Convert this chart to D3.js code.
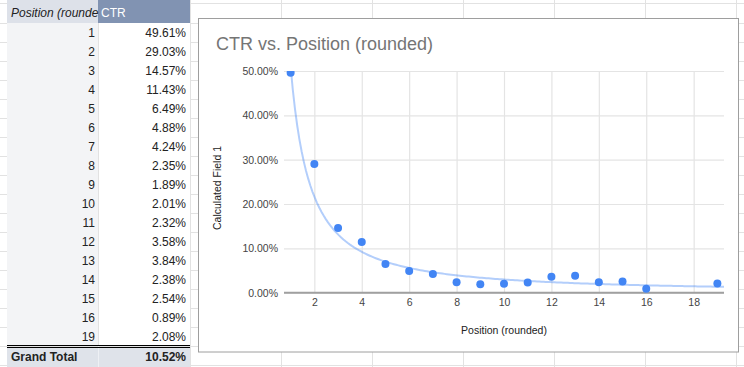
<!DOCTYPE html>
<html><head><meta charset="utf-8">
<script src="https://cdn.jsdelivr.net/npm/d3@7"></script>
<style>
body{margin:0;background:#fff;overflow:hidden;}
svg{display:block;font-family:Arial,"Liberation Sans",sans-serif;}
</style>
</head><body>
<svg id="c" width="744" height="367"></svg>
<script>
// ---- data ----
const positions = [1,2,3,4,5,6,7,8,9,10,11,12,13,14,15,16,19];
const ctrValues = [49.61,29.03,14.57,11.43,6.49,4.88,4.24,2.35,1.89,2.01,2.32,3.58,3.84,2.38,2.54,0.89,2.08];
const grandTotal = 10.52;
const tableHeaders = ["Position (rounde", "CTR"];
const grandTotalLabel = "Grand Total";
const chartTitle = "CTR vs. Position (rounded)";
const xAxisTitle = "Position (rounded)";
const yAxisTitle = "Calculated Field 1";
const xTickValues = [2,4,6,8,10,12,14,16,18];
const yTickValues = [0,10,20,30,40,50];

const svg = d3.select("#c");
const W = 744, H = 367;

// ---- spreadsheet background grid ----
const gridColor = "#e2e2e2";
const rowLines = [3];
for (let y = 23; y < H; y += 19) rowLines.push(y);
const colLines = [7, 98, 190, 281, 372, 463, 554, 645, 736];
svg.append("g").selectAll("line.h").data(rowLines).join("line")
  .attr("x1",0).attr("x2",W).attr("y1",d=>d+0.5).attr("y2",d=>d+0.5)
  .attr("stroke",gridColor);
svg.append("g").selectAll("line.v").data(colLines).join("line")
  .attr("y1",0).attr("y2",H).attr("x1",d=>d+0.5).attr("x2",d=>d+0.5)
  .attr("stroke",gridColor);

// ---- pivot table ----
const c1x = 7, c2x = 98, c3x = 190, rowH = 19, top0 = 23;
const tbl = svg.append("g");
tbl.append("rect").attr("x",c1x).attr("y",0).attr("width",c2x-c1x).attr("height",top0).attr("fill","#dde1e9");
tbl.append("rect").attr("x",c2x).attr("y",0).attr("width",c3x-c2x).attr("height",top0).attr("fill","#8193b2");
tbl.append("text").attr("x",c1x+4).attr("y",17).attr("font-size",12).attr("font-style","italic")
  .attr("fill","#222").text(tableHeaders[0]);
tbl.append("text").attr("x",c2x+3).attr("y",17).attr("font-size",12).attr("fill","#fff").text(tableHeaders[1]);

const rows = tbl.selectAll("g.row").data(positions.map((p,i)=>({p, v: ctrValues[i], i})))
  .join("g").attr("transform", d => `translate(0,${top0 + d.i*rowH})`);
rows.append("rect").attr("x",c1x).attr("width",c2x-c1x).attr("height",rowH).attr("fill","#f3f4f6");
rows.append("rect").attr("x",c2x).attr("width",c3x-c2x).attr("height",rowH).attr("fill","#fff");
rows.append("line").attr("x1",c1x).attr("x2",c3x).attr("y1",rowH+0.5).attr("y2",rowH+0.5).attr("stroke",gridColor);
rows.append("line").attr("x1",c2x+0.5).attr("x2",c2x+0.5).attr("y1",0).attr("y2",rowH).attr("stroke",gridColor);
rows.append("text").attr("x",c2x-3).attr("y",14).attr("text-anchor","end").attr("font-size",12).attr("fill","#222").text(d=>d.p);
rows.append("text").attr("x",c3x-4).attr("y",14).attr("text-anchor","end").attr("font-size",12).attr("fill","#222").text(d=>d.v.toFixed(2)+"%");

const gtY = top0 + positions.length*rowH;
tbl.append("rect").attr("x",c1x).attr("y",gtY+1).attr("width",c3x-c1x).attr("height",H-gtY).attr("fill","#dfe3ea");
tbl.append("line").attr("x1",c2x+0.5).attr("x2",c2x+0.5).attr("y1",gtY).attr("y2",H).attr("stroke","#eef0f4");
tbl.append("line").attr("x1",c1x).attr("x2",c3x).attr("y1",gtY-1+0.5).attr("y2",gtY-1+0.5).attr("stroke","#000");
tbl.append("line").attr("x1",c1x).attr("x2",c3x).attr("y1",gtY+1+0.5).attr("y2",gtY+1+0.5).attr("stroke","#000");
tbl.append("text").attr("x",c1x+4).attr("y",gtY+15).attr("font-size",12).attr("font-weight","bold").attr("fill","#222").text(grandTotalLabel);
tbl.append("text").attr("x",c3x-4).attr("y",gtY+15).attr("text-anchor","end").attr("font-size",12).attr("font-weight","bold").attr("fill","#222").text(grandTotal.toFixed(2)+"%");

// ---- chart card ----
svg.append("rect").attr("x",198.5).attr("y",18.5).attr("width",540).attr("height",333.5)
  .attr("fill","#fff").attr("stroke","#9e9e9e");
svg.append("text").attr("x",216).attr("y",50).attr("font-size",18).attr("fill","#757575").text(chartTitle);

const pl = 284, pr = 724, pt = 71, pb = 292.7;
const x = d3.scaleLinear().domain([0.72, 19.28]).range([pl, pr]);
const y = d3.scaleLinear().domain([0, 50]).range([pb, pt]);

// gridlines
svg.append("g").attr("transform",`translate(0,${pb})`)
  .call(d3.axisBottom(x).tickValues(xTickValues).tickSize(-(pb-pt)).tickFormat(""))
  .call(g=>g.select(".domain").remove())
  .call(g=>g.selectAll("line").attr("stroke","#e4e4e4").attr("stroke-width",1.2));
svg.append("g").attr("transform",`translate(${pl},0)`)
  .call(d3.axisLeft(y).tickValues(yTickValues).tickSize(-(pr-pl)).tickFormat(""))
  .call(g=>g.select(".domain").remove())
  .call(g=>g.selectAll("line").attr("stroke","#e4e4e4").attr("stroke-width",1.2));

// tick labels
svg.append("g").attr("transform",`translate(${pl-6},0)`)
  .call(d3.axisLeft(y).tickValues(yTickValues).tickSize(0).tickPadding(0).tickFormat(d=>d.toFixed(2)+"%"))
  .call(g=>g.select(".domain").remove())
  .call(g=>g.selectAll("text").attr("font-size",10.5).attr("fill","#444").attr("font-family",null));
svg.append("g").attr("transform",`translate(0,${pb})`)
  .call(d3.axisBottom(x).tickValues(xTickValues).tickSize(0).tickPadding(6))
  .call(g=>g.select(".domain").remove())
  .call(g=>g.selectAll("text").attr("font-size",10.5).attr("fill","#444").attr("font-family",null));

// baseline
svg.append("line").attr("x1",pl).attr("x2",pr).attr("y1",y(0)).attr("y2",y(0))
  .attr("stroke","#a0a0a0").attr("stroke-width",2);

// axis titles
svg.append("text").attr("x",504).attr("y",334).attr("text-anchor","middle").attr("font-size",10.5).attr("fill","#222").text(xAxisTitle);
svg.append("text").attr("transform","translate(221,188) rotate(-90)").attr("text-anchor","middle").attr("font-size",10.5).attr("fill","#222").text(yAxisTitle);

// clip to plot area
svg.append("clipPath").attr("id","plotclip").append("rect")
  .attr("x",pl-6).attr("y",pt).attr("width",pr-pl+12).attr("height",pb-pt+10);

// power trendline (least squares on log-log, as the spreadsheet does)
const lx = positions.map(Math.log), ly = ctrValues.map(Math.log);
const mx = d3.mean(lx), my = d3.mean(ly);
const b = d3.sum(lx.map((v,i)=>(v-mx)*(ly[i]-my))) / d3.sum(lx.map(v=>(v-mx)*(v-mx)));
const a = Math.exp(my - b*mx);
const [x0, x1] = x.domain();
const trendPts = d3.range(0, 201).map(k => x0 + (x1-x0)*k/200).map(v => [v, a*Math.pow(v,b)]);
svg.append("path").attr("clip-path","url(#plotclip)")
  .attr("d", d3.line().x(d=>x(d[0])).y(d=>y(d[1]))(trendPts))
  .attr("fill","none").attr("stroke","#4285f4").attr("stroke-opacity",0.4).attr("stroke-width",2);

// points
svg.append("g").attr("clip-path","url(#plotclip)")
  .selectAll("circle").data(positions.map((p,i)=>[p, ctrValues[i]])).join("circle")
  .attr("cx",d=>x(d[0])).attr("cy",d=>y(d[1])).attr("r",4).attr("fill","#4285f4");
</script>
</body></html>
